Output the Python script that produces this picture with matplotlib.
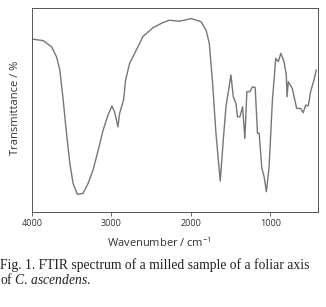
import matplotlib.pyplot as plt
from matplotlib.ticker import NullLocator

# spectrum (wavenumber in cm-1, transmittance in arbitrary %)
wavenumber = [
    4000, 3858, 3753, 3690, 3649, 3607, 3565, 3523, 3482, 3427, 3356, 3294,
    3231, 3168, 3105, 3043, 2993, 2959, 2917, 2896, 2846, 2821, 2770, 2686,
    2603, 2478, 2353, 2268, 2143, 1996, 1871, 1808, 1767, 1725, 1683, 1629,
    1591, 1557, 1494, 1465, 1432, 1412, 1381, 1348, 1319, 1294, 1256, 1223,
    1189, 1160, 1139, 1105, 1076, 1048, 1014, 972, 930, 897, 867, 826, 797,
    788, 772, 722, 667, 616, 584, 553, 521, 491, 449, 420,
]
transmittance = [
    84.8, 84.0, 81.0, 76.0, 69.6, 55.0, 38.6, 24.0, 14.0, 8.7, 9.2, 14.0,
    20.6, 30.0, 40.0, 47.5, 52.0, 49.0, 41.8, 48.4, 55.0, 64.7, 72.9, 79.4,
    86.0, 90.3, 92.8, 94.0, 93.5, 94.8, 93.3, 89.2, 82.7, 63.0, 38.6, 15.2,
    35.3, 51.6, 67.2, 56.5, 53.3, 46.7, 46.7, 51.6, 36.1, 59.0, 59.0, 61.4,
    61.0, 38.6, 38.6, 21.4, 17.3, 10.0, 22.0, 55.0, 75.3, 73.7, 77.8, 73.7,
    67.2, 56.5, 63.9, 60.6, 50.8, 50.8, 48.7, 52.5, 52.0, 59.0, 64.7, 69.6,
]
xticks = [4000, 3000, 2000, 1000]

plt.rcParams['mathtext.fontset'] = 'custom'
plt.rcParams['mathtext.rm'] = 'Open Sans'
plt.rcParams['mathtext.it'] = 'Liberation Serif:italic'

fig = plt.figure(figsize=(3.26, 3.07), dpi=100)
ax = fig.add_axes([0.098, 0.309, 0.877, 0.665])

ax.plot(wavenumber, transmittance, color='#767676', lw=1.0)

ax.set_xlim(4000, 400)
ax.set_ylim(0, 100)
ax.set_xticks(xticks)
ax.set_xticklabels([str(t) for t in xticks], fontfamily='Open Sans',
                   fontsize=6.5, color='#333333')
ax.yaxis.set_major_locator(NullLocator())
ax.tick_params(axis='x', direction='out', length=3, width=0.6,
               color='#555555', pad=2)
for s in ax.spines.values():
    s.set_color('#555555')
    s.set_linewidth(0.7)

fig.text(0.047, 0.65, 'Transmittance / %', rotation=90,
         ha='center', va='center', fontfamily='Open Sans', fontsize=8,
         color='#333333')
fig.text(0.49, 0.208, r'Wavenumber / cm$^{\mathrm{-1}}$', ha='center',
         va='center', fontfamily='Open Sans', fontsize=8, color='#333333')

fig.text(0.0, 0.137, 'Fig. 1. FTIR spectrum of a milled sample of a foliar axis',
         ha='left', va='center', fontfamily='Liberation Serif', fontsize=9.8,
         color='#222222')
fig.text(0.0, 0.091, 'of $C$. $ascendens$.', ha='left', va='center',
         fontfamily='Liberation Serif', fontsize=9.8, color='#222222')

plt.savefig('out.png', dpi=100)
